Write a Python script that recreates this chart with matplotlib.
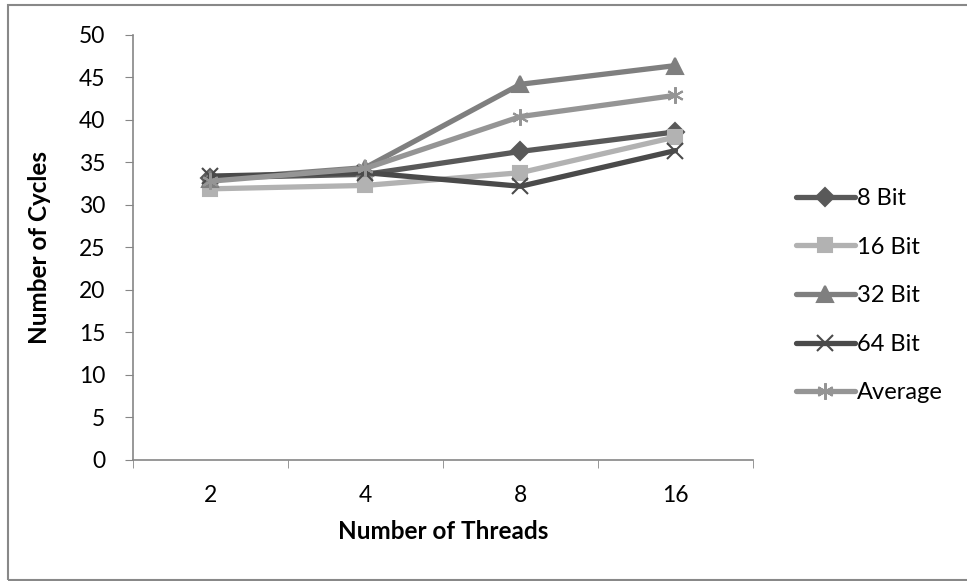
import numpy as np
import matplotlib.pyplot as plt
from matplotlib.patches import Rectangle

plt.rcParams['font.family'] = ['Lato', 'DejaVu Sans']

threads = ['2', '4', '8', '16']
bit8 = [33.2, 33.6, 36.3, 38.6]
bit16 = [31.9, 32.3, 33.8, 38.0]
bit32 = [33.0, 34.4, 44.2, 46.4]
bit64 = [33.4, 33.8, 32.2, 36.4]
average = [32.8, 34.3, 40.4, 42.9]

series = [
    ('8 Bit', bit8, '#595959', 'D', 9),
    ('16 Bit', bit16, '#b2b2b2', 's', 10),
    ('32 Bit', bit32, '#7f7f7f', '^', 11),
    ('64 Bit', bit64, '#4a4a4a', 'x', 11),
    ('Average', average, '#959595', (6, 2, 0), 12),
]

fs = 16.5

fig = plt.figure(figsize=(9.67, 5.81), dpi=100)
ax = fig.add_axes([0.1375, 0.2083, 0.6412, 0.7315])

x = np.arange(len(threads))
for name, vals, col, mk, ms in series:
    ax.plot(x, vals, color=col, lw=3.8, marker=mk, ms=ms,
            mec=col, mfc=col, mew=1.5, label=name, solid_capstyle='round')

ax.set_xlim(-0.5, 3.5)
ax.set_ylim(0, 50)
ax.set_yticks(np.arange(0, 51, 5))
ax.set_xticks(x)
ax.set_xticklabels(threads)
ax.set_xticks(np.arange(-0.5, 3.6, 1), minor=True)
ax.tick_params(axis='x', which='major', length=0, pad=18, labelsize=fs)
ax.tick_params(axis='x', which='minor', length=6, color='#868686')
ax.tick_params(axis='y', length=6, color='#868686', labelsize=fs, pad=14)

for s in ['top', 'right']:
    ax.spines[s].set_visible(False)
for s in ['left', 'bottom']:
    ax.spines[s].set_color('#868686')
    ax.spines[s].set_linewidth(1.2)

ax.set_xlabel('Number of Threads', fontsize=17.5, fontweight='bold', labelpad=10)
ax.set_ylabel('Number of Cycles', fontsize=17.5, fontweight='bold', labelpad=20)

ax.legend(loc='upper left', bbox_to_anchor=(1.035, 0.69), frameon=False,
          fontsize=17, handlelength=2.5, handletextpad=0.1, labelspacing=1.17)

# outer chart border
fig.patches.append(Rectangle((8 / 967, 0.002), 1.2, 1 - 5 / 581 - 0.002,
                             transform=fig.transFigure, fill=False,
                             edgecolor='#888888', lw=1.5))

fig.savefig('out.png', dpi=100)
